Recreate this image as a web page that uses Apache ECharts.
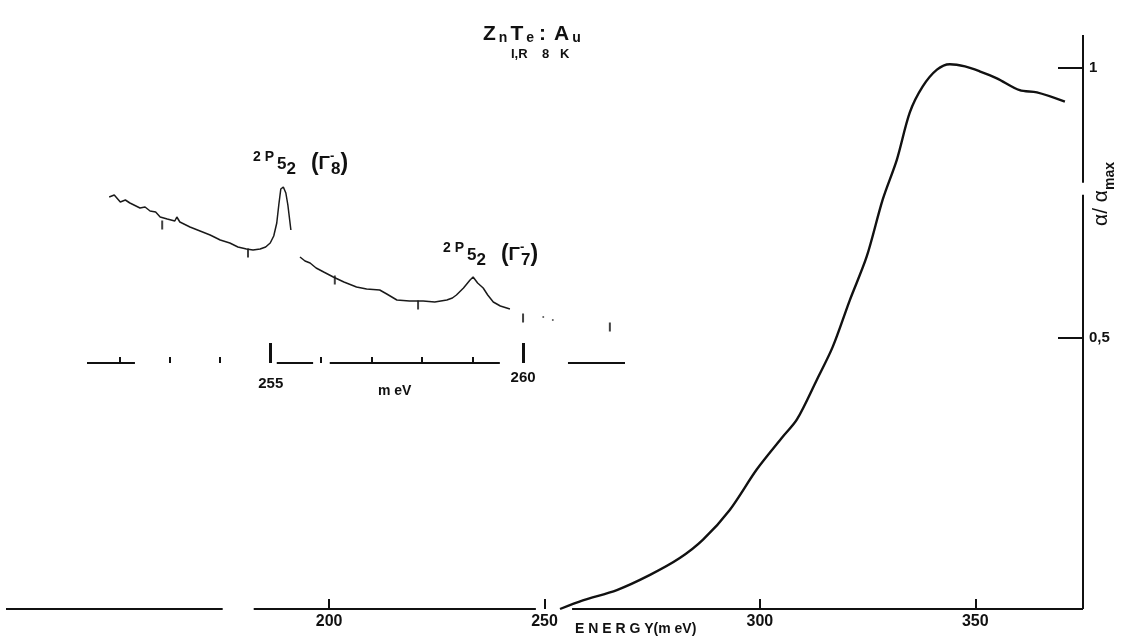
<!DOCTYPE html>
<html>
<head>
<meta charset="utf-8">
<script src="https://cdn.jsdelivr.net/npm/echarts@6/dist/echarts.min.js"></script>
<style>
html,body{margin:0;padding:0;background:#fff;}
#chart{width:1126px;height:637px;}
</style>
</head>
<body>
<div id="chart"></div>
<script>
// ---- Main absorption curve (ENERGY meV vs alpha/alpha_max) ----
const mainEnergy = [253.6, 258.9, 266.8, 274.5, 281.4, 286.8, 293.0, 299.3, 305.3, 308.6, 313.2, 316.9, 320.9, 324.8, 328.5, 331.8, 334.8, 337.8, 341.1, 344.1, 347.6, 351.0, 355.0, 360.3, 364.3, 370.8];
const mainAbs    = [0.0, 0.016, 0.035, 0.063, 0.094, 0.128, 0.183, 0.258, 0.318, 0.350, 0.423, 0.484, 0.571, 0.651, 0.756, 0.830, 0.917, 0.965, 0.996, 1.006, 1.002, 0.993, 0.980, 0.958, 0.954, 0.937];
const mainTicks = [200, 250, 300, 350];
const absTicks = [0.5, 1];
const mainAxisSegments = [[125, 175.3], [182.5, 248.0], [256.4, 375]];
const absAxisSegments = [[0, 0.765], [0.787, 1.06]];

// ---- Inset: high resolution trace (meV, arbitrary units) ----
const insetEnergy = [251.80, 251.90, 252.02, 252.12, 252.21, 252.41, 252.51, 252.61, 252.72, 252.81, 252.95, 253.10, 253.14, 253.20, 253.40, 253.60, 253.80, 254.00, 254.19, 254.35, 254.52, 254.65, 254.79, 254.90, 254.99, 255.06, 255.12, 255.16, 255.20, 255.25, 255.30, 255.34, 255.40,
  255.49,
  255.58, 255.68, 255.78, 255.90, 256.05, 256.24, 256.45, 256.70, 256.90, 257.16, 257.30, 257.50, 257.75, 258.02, 258.25, 258.49, 258.60, 258.68, 258.82, 258.95, 259.01, 259.10, 259.21, 259.30, 259.41, 259.55, 259.74];
const insetSignal = [166, 168, 161, 163, 160, 155, 156, 152, 151, 146, 144, 142, 146, 141, 136, 132, 128, 123, 120, 116, 114, 113, 114, 116, 120, 127, 140, 158, 174, 176, 170, 158, 133,
  null,
  106, 102, 100, 95, 91, 86, 81, 76, 74, 73, 69, 63, 62, 62, 61, 63, 65, 68, 75, 83, 86, 80, 75, 68, 61, 57, 54];
const insetDotsEnergy = [260.40, 260.59];
const insetDotsSignal = [46, 43];
const markerEnergy = [252.85, 254.55, 256.27, 257.92, 260.0, 261.72];
const markerSignal = [138, 110, 83, 58, 45, 36];
const insetMinorTicks = [252, 253, 254, 256, 257, 258, 259];
const insetMajorTicks = [255, 260];
const insetAxisSegments = [[251.36, 252.31], [255.12, 255.84], [256.17, 259.54], [260.89, 262.02]];

const FONT = 'Liberation Sans';
const INK = '#111';

function zip(a, b) { return a.map((v, i) => [v, b[i]]); }
function segLines(segs, fixed, horizontal) {
  return segs.map(s => horizontal
    ? [{coord: [s[0], fixed]}, {coord: [s[1], fixed]}]
    : [{coord: [fixed, s[0]]}, {coord: [fixed, s[1]]}]);
}
function levelRich() {
  const base = {fontFamily: FONT, fontWeight: 'bold', fill: INK};
  return {
    a: Object.assign({}, base, {fontSize: 14, lineHeight: 14, verticalAlign: 'top'}),
    b: Object.assign({}, base, {fontSize: 17, lineHeight: 17, verticalAlign: 'middle'}),
    c: Object.assign({}, base, {fontSize: 17, lineHeight: 15, verticalAlign: 'bottom'}),
    s: {fontSize: 10, lineHeight: 10, width: 15},
    t: {fontSize: 10, lineHeight: 10, width: 3},
    d: Object.assign({}, base, {fontSize: 23, lineHeight: 28, verticalAlign: 'middle'}),
    g: Object.assign({}, base, {fontSize: 19, lineHeight: 19, verticalAlign: 'middle'}),
    p: Object.assign({}, base, {fontSize: 13, lineHeight: 13, verticalAlign: 'top', width: 1}),
    e: Object.assign({}, base, {fontSize: 17, lineHeight: 16, verticalAlign: 'bottom'})
  };
}

const chart = echarts.init(document.getElementById('chart'));
const option = {
  backgroundColor: '#fff',
  animation: false,
  grid: [
    {left: 6, right: 43, top: 35, bottom: 28},
    {left: 87, right: 501, top: 163, bottom: 274}
  ],
  xAxis: [
    {gridIndex: 0, type: 'value', min: 125, max: 375, position: 'bottom',
     axisLine: {show: false}, splitLine: {show: false},
     axisTick: {show: true, inside: true, length: 10, customValues: mainTicks, lineStyle: {color: INK, width: 2}},
     axisLabel: {show: true, customValues: mainTicks, margin: 5, color: INK, fontFamily: FONT, fontSize: 16, fontWeight: 'bold'}},
    {gridIndex: 1, type: 'value', min: 251.36, max: 262.02, position: 'bottom', offset: 0,
     axisLine: {show: false}, splitLine: {show: false},
     axisTick: {show: true, inside: true, length: 6, customValues: insetMinorTicks, lineStyle: {color: INK, width: 2}},
     axisLabel: {show: false}},
    {gridIndex: 1, type: 'value', min: 251.36, max: 262.02, position: 'bottom', offset: 0,
     axisLine: {show: false}, splitLine: {show: false},
     axisTick: {show: true, inside: true, length: 20, customValues: insetMajorTicks, lineStyle: {color: INK, width: 3}},
     axisLabel: {show: true, customValues: insetMajorTicks, margin: 7,
       formatter: v => (v === 255 ? '{lo|' + v + '}' : '{hi|' + v + '}'),
       rich: {
         lo: {fontFamily: FONT, fontSize: 15, fontWeight: 'bold', color: INK, padding: [6, 0, 0, 0]},
         hi: {fontFamily: FONT, fontSize: 15, fontWeight: 'bold', color: INK}
       }}}
  ],
  yAxis: [
    {gridIndex: 0, type: 'value', min: 0, max: 1.06, position: 'right',
     axisLine: {show: false}, splitLine: {show: false},
     axisTick: {show: true, inside: true, length: 25, customValues: absTicks, lineStyle: {color: INK, width: 2}},
     axisLabel: {show: true, customValues: absTicks, margin: 6, color: INK, fontFamily: FONT, fontSize: 15, fontWeight: 'bold',
                 formatter: v => String(v).replace('.', ',')}},
    {gridIndex: 1, type: 'value', min: 0, max: 200, show: false}
  ],
  series: [
    {type: 'line', xAxisIndex: 0, yAxisIndex: 0, data: zip(mainEnergy, mainAbs),
     smooth: 0.3, showSymbol: false, silent: true,
     lineStyle: {color: INK, width: 2.4},
     markLine: {silent: true, symbol: 'none', label: {show: false},
       lineStyle: {color: INK, width: 2, type: 'solid'},
       data: segLines(mainAxisSegments, 0, true).concat(segLines(absAxisSegments, 375, false))}},
    {type: 'line', xAxisIndex: 1, yAxisIndex: 1, data: zip(insetEnergy, insetSignal),
     connectNulls: false, showSymbol: false, silent: true,
     lineStyle: {color: '#1a1a1a', width: 1.5},
     markLine: {silent: true, symbol: 'none', label: {show: false},
       lineStyle: {color: INK, width: 2, type: 'solid'},
       data: segLines(insetAxisSegments, 0, true)}},
    {type: 'scatter', xAxisIndex: 1, yAxisIndex: 1, data: zip(markerEnergy, markerSignal),
     symbol: 'rect', symbolSize: [2, 9], silent: true, itemStyle: {color: INK}},
    {type: 'scatter', xAxisIndex: 1, yAxisIndex: 1, data: zip(insetDotsEnergy, insetDotsSignal),
     symbol: 'circle', symbolSize: 2, silent: true, itemStyle: {color: '#333'}}
  ],
  graphic: [
    {type: 'text', left: 483, top: 24, silent: true, style: {
      text: '{C|Z}{s|}{l|n}{s|}{C|T}{s|}{l|e}{m|}{C|:}{w|}{C|A}{s|}{l|u}',
      rich: {
        C: {fontFamily: FONT, fontSize: 21, fontWeight: 'bold', fill: INK, verticalAlign: 'bottom', lineHeight: 21},
        l: {fontFamily: FONT, fontSize: 14, fontWeight: 'bold', fill: INK, verticalAlign: 'bottom', lineHeight: 14},
        s: {fontSize: 6, lineHeight: 6, width: 3},
        m: {fontSize: 6, lineHeight: 6, width: 5},
        w: {fontSize: 6, lineHeight: 6, width: 8}
      }}},
    {type: 'text', left: 511, top: 48, silent: true, style: {
      text: 'I,R    8   K', fontFamily: FONT, fontSize: 13, fontWeight: 'bold', fill: INK}},
    {type: 'text', left: 253, top: 150, silent: true, style: {
      text: '{a|2 P}{t|}{b|5}{c|2}{s|}{d|(}{g|Γ}{p|-}{e|8}{d|)}',
      rich: levelRich()}},
    {type: 'text', left: 443, top: 241, silent: true, style: {
      text: '{a|2 P}{t|}{b|5}{c|2}{s|}{d|(}{g|Γ}{p|-}{e|7}{d|)}',
      rich: levelRich()}},
    {type: 'text', left: 378, top: 384, silent: true, style: {
      text: 'm eV', fontFamily: FONT, fontSize: 14, fontWeight: 'bold', fill: INK}},
    {type: 'text', left: 575, top: 622, silent: true, style: {
      text: 'E N E R G Y(m eV)', fontFamily: FONT, fontSize: 14, fontWeight: 'bold', fill: INK}},
    {type: 'text', x: 1104, y: 194, rotation: Math.PI / 2, silent: true, style: {
      text: '{g|α/ α}{m|max}', align: 'center', verticalAlign: 'middle',
      rich: {
        g: {fontFamily: FONT, fontSize: 21, fill: INK, verticalAlign: 'top', lineHeight: 26},
        m: {fontFamily: FONT, fontSize: 14, fontWeight: 'bold', fill: INK, verticalAlign: 'bottom', lineHeight: 26}
      }}}
  ]
};
chart.setOption(option);
</script>
</body>
</html>
